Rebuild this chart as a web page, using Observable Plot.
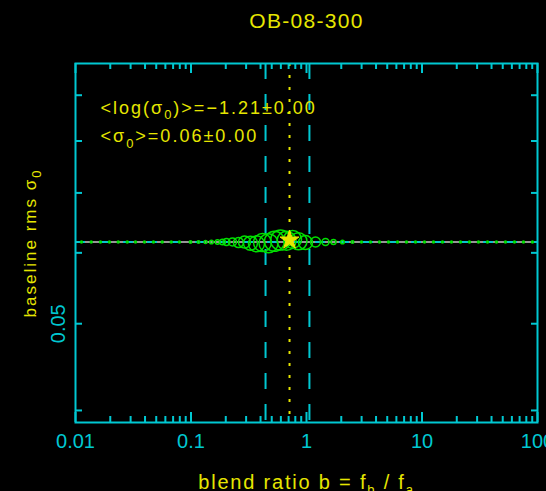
<!DOCTYPE html>
<html><head><meta charset="utf-8">
<script src="https://cdn.jsdelivr.net/npm/d3@7"></script>
<script src="https://cdn.jsdelivr.net/npm/@observablehq/plot@0.6"></script>
<style>html,body{margin:0;padding:0;background:#000;overflow:hidden;}</style>
</head><body><div id="chart"></div>
<script>
// ---- text ----
const title = "OB-08-300";
const xLabel = "blend ratio b = f_b / f_a";
const yLabel = "baseline rms σ_0";
const statLines = ["<log(σ_0)>=−1.21±0.00", "<σ_0>=0.06±0.00"];

// ---- data: blend ratio samples, baseline rms, symbol radius ----
const blendRatio = [0.01127,0.01368,0.01645,0.01968,0.02344,0.02805,0.03306,0.03953,0.04731,0.05632,
  0.06745,0.07943,0.0990,0.1161,0.1336,0.1504,0.1695,0.1874,0.2029,0.2286,
  0.2576,0.2904,0.3273,0.3689,0.4159,0.4688,0.5284,0.5956,0.6713,0.7566,
  0.8528,0.980,1.197,1.460,1.713,2.049,2.502,2.993,3.581,4.285,
  5.127,6.134,7.339,8.781,10.51,12.57,15.04,17.99,21.53,25.76,
  30.82,36.88,44.12,52.79,63.16,75.57,90.41];
const sigma0 = [0.0617,0.0617,0.0617,0.0617,0.0617,0.0617,0.0617,0.0617,0.0617,0.0617,
  0.0617,0.0617,0.0617,0.0617,0.0617,0.0617,0.0617,0.0617,0.0617,0.0617,
  0.0616,0.0617,0.0615,0.0614,0.0616,0.0615,0.0618,0.0620,0.0619,0.0621,
  0.0618,0.0616,0.0617,0.0617,0.0617,0.0617,0.0617,0.0617,0.0617,0.0617,
  0.0617,0.0617,0.0617,0.0617,0.0617,0.0617,0.0617,0.0617,0.0617,0.0617,
  0.0617,0.0617,0.0617,0.0617,0.0617,0.0617,0.0617];
const symbolRadius = [1,1,1,1,1,1,1,1,1,1,
  1,1,1.2,1.3,1.5,1.8,2.2,2.8,3.5,4,
  5,6,7,8,9,9.5,10,10,9.5,9,
  8.5,7,5,3.5,2.5,1.8,1.3,1,1,1,
  1,1,1,1,1,1,1,1,1,1,
  1,1,1,1,1,1,1];

// ---- summary statistics ----
const meanSigma0 = [0.0617];
const sigma0Band = [0.0617, 0.0617];
const meanBlend = [0.713];
const blendBand = [0.442, 1.06];
const bestBlend = [0.713];
const bestSigma0 = [0.0620];

// ---- ticks ----
const xMajorTicks = [0.01, 0.1, 1, 10, 100];
const xMinorTicks = [0.02,0.03,0.04,0.05,0.06,0.07,0.08,0.09,
  0.2,0.3,0.4,0.5,0.6,0.7,0.8,0.9,
  2,3,4,5,6,7,8,9,
  20,30,40,50,60,70,80,90];
const xTickLabels = ["0.01", "0.1", "1", "10", "100"];
const yTicks = [0.04, 0.05, 0.06, 0.07, 0.08, 0.09];
const yLabelTicks = [0.05];
const yTickLabels = ["0.05"];

const CYAN = "#00c8d2", YELLOW = "#e6e600", GREEN = "#00e000", GREY = "#c8c8c8";
const FONT = "Liberation Sans";
const W = 546, H = 491, ML = 75, MR = 9, MT = 63, MB = 69;
const IW = W - ML - MR, IH = H - MT - MB;

const points = blendRatio.map((b, i) => ({b, s: sigma0[i], r: symbolRadius[i]}));

const chart = Plot.plot({
  width: W, height: H,
  marginLeft: ML, marginRight: MR, marginTop: MT, marginBottom: MB,
  style: {background: "#000", fontFamily: FONT, overflow: "visible"},
  x: {type: "log", domain: [0.01, 100], axis: null},
  y: {type: "log", domain: [0.03878, 0.09765], axis: null},
  r: {type: "identity"},
  marks: [
    // horizontal mean line and its band
    Plot.ruleY(meanSigma0, {y: d => d, stroke: GREY, strokeWidth: 1.5}),
    Plot.ruleY(sigma0Band, {y: d => d, stroke: CYAN, strokeWidth: 1.5, strokeDasharray: "10,14"}),
    // vertical band and mean
    Plot.ruleX(blendBand, {x: d => d, stroke: CYAN, strokeWidth: 2, strokeDasharray: "16,15"}),
    Plot.ruleX(meanBlend, {x: d => d, stroke: YELLOW, strokeWidth: 2, strokeDasharray: "3,9"}),
    // samples
    Plot.dot(points, {x: "b", y: "s", r: "r", stroke: GREEN, strokeWidth: 1.5, fill: "none"}),
    Plot.dot(bestBlend, {x: d => d, y: (d, i) => bestSigma0[i], symbol: "star", r: 6, fill: YELLOW, stroke: YELLOW, strokeWidth: 1}),
    // frame and ticks
    Plot.frame({stroke: CYAN, strokeWidth: 2}),
    Plot.ruleX(xMajorTicks, {x: d => d, stroke: CYAN, strokeWidth: 2, insetTop: IH - 10}),
    Plot.ruleX(xMinorTicks, {x: d => d, stroke: CYAN, strokeWidth: 2, insetTop: IH - 6}),
    Plot.ruleX(xMajorTicks, {x: d => d, stroke: CYAN, strokeWidth: 2, insetBottom: IH - 10}),
    Plot.ruleX(xMinorTicks, {x: d => d, stroke: CYAN, strokeWidth: 2, insetBottom: IH - 6}),
    Plot.ruleY(yTicks, {y: d => d, stroke: CYAN, strokeWidth: 2, insetRight: IW - 7}),
    Plot.ruleY(yTicks, {y: d => d, stroke: CYAN, strokeWidth: 2, insetLeft: IW - 6}),
    // tick labels
    Plot.text(xMajorTicks, {x: d => d, text: (d, i) => xTickLabels[i], frameAnchor: "bottom", dy: 25,
      lineAnchor: "bottom", textAnchor: "middle", fill: CYAN, fontSize: 20, fontFamily: FONT}),
    Plot.text(yLabelTicks, {y: d => d, text: (d, i) => yTickLabels[i], frameAnchor: "left", dx: -11,
      rotate: -90, lineAnchor: "bottom", textAnchor: "middle", fill: CYAN, fontSize: 20, fontFamily: FONT}),
    // axis titles
    Plot.text([xLabel], {text: d => d, frameAnchor: "bottom", dy: 66, lineAnchor: "bottom", textAnchor: "middle",
      fill: YELLOW, fontSize: 20, fontFamily: FONT}),
    Plot.text([yLabel], {text: d => d, frameAnchor: "left", dx: -40, rotate: -90, lineAnchor: "bottom",
      textAnchor: "middle", fill: YELLOW, fontSize: 17, fontFamily: FONT}),
    Plot.text([title], {text: d => d, frameAnchor: "top", dy: -36, lineAnchor: "bottom", textAnchor: "middle",
      fill: YELLOW, fontSize: 21, fontFamily: FONT}),
    // statistics annotation
    Plot.text([statLines[0]], {text: d => d, frameAnchor: "top-left", dx: 25, dy: 50,
      lineAnchor: "bottom", textAnchor: "start", fill: YELLOW, fontSize: 18, fontFamily: FONT}),
    Plot.text([statLines[1]], {text: d => d, frameAnchor: "top-left", dx: 25, dy: 78.5,
      lineAnchor: "bottom", textAnchor: "start", fill: YELLOW, fontSize: 18, fontFamily: FONT})
  ]
});

// add subscripts and letter spacing
const svg = d3.select(chart);
const spacing = new Map([[title, 1.3], [xLabel, 1.8], [yLabel, 2], [statLines[0], 2], [statLines[1], 2]]);
svg.selectAll("text").each(function() {
  const el = d3.select(this);
  const s = this.textContent;
  if (spacing.has(s)) el.attr("letter-spacing", spacing.get(s));
  if (!s.includes("_")) return;
  const fs = parseFloat(el.attr("font-size")) || 18;
  const segs = [];
  let buf = "";
  for (let i = 0; i < s.length; i++) {
    if (s[i] === "_") { segs.push({t: buf, sub: false}); buf = ""; segs.push({t: s[i + 1], sub: true}); i++; }
    else buf += s[i];
  }
  if (buf) segs.push({t: buf, sub: false});
  el.text(null);
  let shifted = false;
  for (const seg of segs) {
    if (!seg.t) continue;
    const ts = el.append("tspan").text(seg.t);
    if (seg.sub) { ts.attr("font-size", fs * 0.72).attr("dy", fs * 0.32); shifted = true; }
    else if (shifted) { ts.attr("dy", -fs * 0.32); shifted = false; }
  }
});
document.getElementById("chart").appendChild(chart);
</script>
</body></html>
